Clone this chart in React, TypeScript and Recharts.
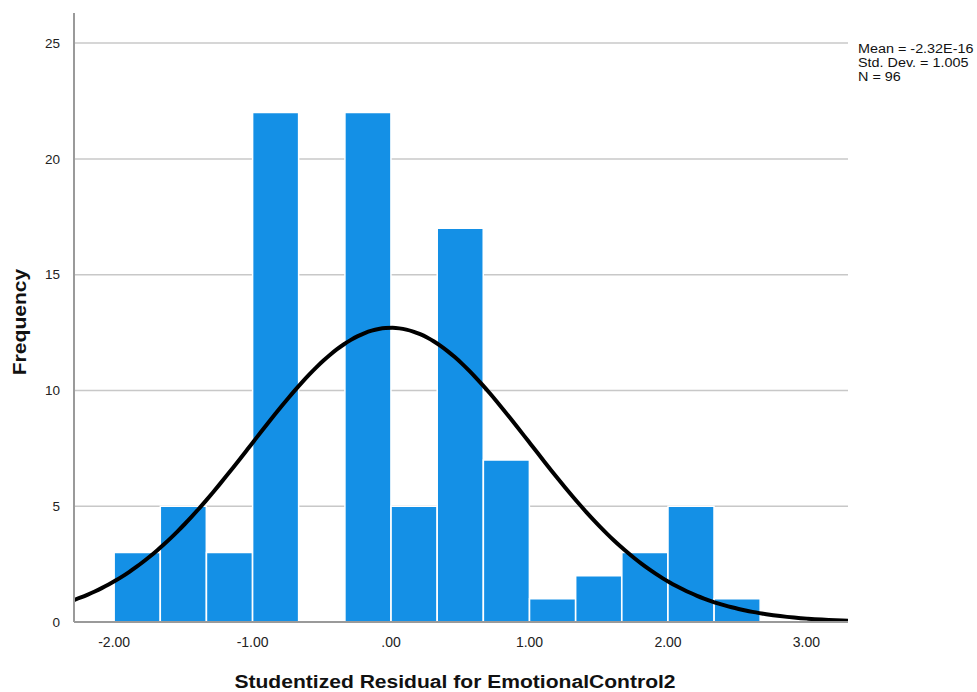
import {
  Bar,
  CartesianGrid,
  ComposedChart,
  Line,
  XAxis,
  YAxis,
} from "recharts";

// 直方图分箱（宽 1/3），从 -2.00 起
const binStarts = [-2, -5 / 3, -4 / 3, -1, -2 / 3, -1 / 3, 0, 1 / 3, 2 / 3, 1, 4 / 3, 5 / 3, 2, 7 / 3];
const binCounts = [3, 5, 3, 22, 0, 22, 5, 17, 7, 1, 2, 3, 5, 1];
const binWidth = 1 / 3;

// 拟合正态曲线参数（与右上角说明一致）
const mean = -2.32e-16;
const stdDev = 1.005;
const total = 96;

const xTicks = [-2, -1, 0, 1, 2, 3];
const yTicks = [0, 5, 10, 15, 20, 25];
const xDomain: [number, number] = [-2.29, 3.3];
const yMax = 26.3;

const normal = (x: number) =>
  ((total * binWidth) / (stdDev * Math.sqrt(2 * Math.PI))) *
  Math.exp(-((x - mean) ** 2) / (2 * stdDev * stdDev));

const bins = binStarts.map((s, i) => ({ x: s + binWidth / 2, count: binCounts[i] }));

const curve: { cx: number; density: number }[] = [];
for (let v = xDomain[0]; v < xDomain[1]; v += 0.05) curve.push({ cx: v, density: normal(v) });
curve.push({ cx: xDomain[1], density: normal(xDomain[1]) });

const fmtX = (v: number) => (v === 0 ? ".00" : v.toFixed(2));

const W = 977;
const H = 692;

// 只画 5..25 的横向网格线（0 处由坐标轴线代替，顶部不画）
const gridRows = (props: any) => {
  const { yAxis, offset } = props;
  return yTicks
    .filter((t) => t > 0)
    .map((t) =>
      yAxis && typeof yAxis.scale === "function"
        ? yAxis.scale(t)
        : offset.top + offset.height * (1 - t / yMax),
    );
};

// 文字整体略宽
const wide = "scaleX(1.17)";

export default function App() {
  return (
    <div
      style={{
        position: "absolute",
        left: 0,
        top: 0,
        width: W,
        height: H,
        background: "#fff",
        fontFamily: "'Liberation Sans', Arial, sans-serif",
      }}
    >
      <ComposedChart
        width={W}
        height={H}
        data={bins}
        margin={{ top: 13, right: 129, bottom: 0, left: 0 }}
      >
        <CartesianGrid
          vertical={false}
          stroke="#c8c8c8"
          strokeWidth={1.5}
          horizontalCoordinatesGenerator={gridRows}
        />
        <XAxis
          xAxisId="bins"
          dataKey="x"
          type="number"
          domain={xDomain}
          ticks={xTicks}
          tickFormatter={fmtX}
          allowDataOverflow
          height={70}
          axisLine={{ stroke: "#9a9a9a", strokeWidth: 2 }}
          tickLine={false}
          tickMargin={9}
          tick={{ fill: "#222", fontSize: 14 }}
        />
        <XAxis
          xAxisId="curve"
          dataKey="cx"
          type="number"
          domain={xDomain}
          allowDataOverflow
          hide
        />
        <YAxis
          type="number"
          domain={[0, yMax]}
          ticks={yTicks}
          width={74}
          axisLine={{ stroke: "#9a9a9a", strokeWidth: 2 }}
          tickLine={false}
          tickMargin={8}
          tick={{ fill: "#222", fontSize: 13.5 }}
        />
        <Bar
          xAxisId="bins"
          dataKey="count"
          fill="#1490e6"
          stroke="#ffffff"
          strokeWidth={1.5}
          barSize={46}
          isAnimationActive={false}
        />
        <Line
          xAxisId="curve"
          data={curve}
          dataKey="density"
          type="monotone"
          stroke="#000"
          strokeWidth={4}
          dot={false}
          activeDot={false}
          isAnimationActive={false}
        />
      </ComposedChart>

      <div
        style={{
          position: "absolute",
          left: 858,
          top: 42,
          fontSize: 12.5,
          lineHeight: "14px",
          color: "#111",
          transform: "scaleX(1.15)",
          transformOrigin: "left top",
          whiteSpace: "nowrap",
        }}
      >
        <div>Mean = -2.32E-16</div>
        <div>Std. Dev. = 1.005</div>
        <div>N = 96</div>
      </div>

      <div
        style={{
          position: "absolute",
          left: 20,
          top: 322,
          transform: `translate(-50%, -50%) rotate(-90deg) ${wide}`,
          fontSize: 18,
          fontWeight: "bold",
          color: "#111",
          whiteSpace: "nowrap",
        }}
      >
        Frequency
      </div>

      <div
        style={{
          position: "absolute",
          left: 455,
          top: 682,
          transform: `translate(-50%, -50%) ${wide}`,
          fontSize: 18,
          fontWeight: "bold",
          color: "#111",
          whiteSpace: "nowrap",
        }}
      >
        Studentized Residual for EmotionalControl2
      </div>
    </div>
  );
}
